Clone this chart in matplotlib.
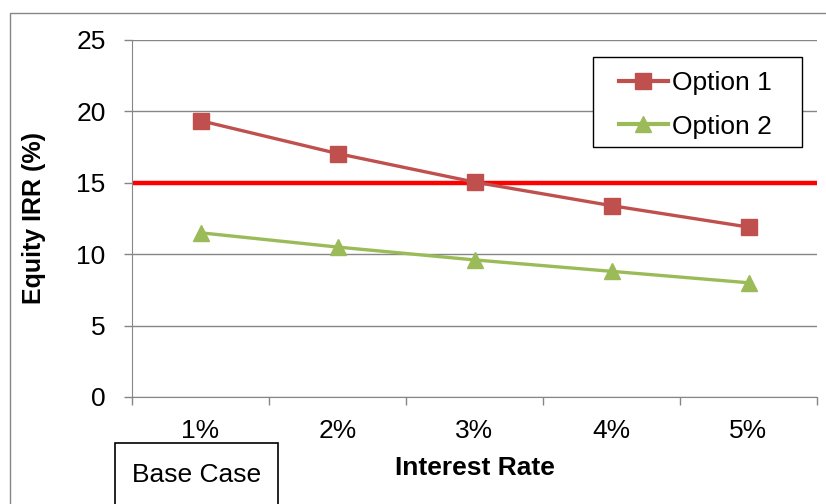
import numpy as np
import matplotlib.pyplot as plt
from matplotlib.patches import Rectangle

rates = ["1%", "2%", "3%", "4%", "5%"]
option1 = [19.35, 17.05, 15.05, 13.4, 11.9]
option2 = [11.5, 10.5, 9.6, 8.8, 8.0]
target_irr = 15

plt.rcParams["font.family"] = ["Liberation Sans", "DejaVu Sans"]

fig = plt.figure(figsize=(8.26, 5.04), dpi=100)
ax = fig.add_axes([132 / 826, 1 - 397 / 504, (817 - 132) / 826, (397 - 40) / 504])

x = np.arange(len(rates))
grey = "#868686"

ax.axhline(target_irr, color="#FF0000", linewidth=3.2, zorder=2)
ax.plot(x, option1, "-s", color="#C0504D", linewidth=2.4, markersize=12,
        label="Option 1", zorder=3)
ax.plot(x, option2, "-^", color="#9BBB59", linewidth=2.4, markersize=11,
        label="Option 2", zorder=3)

ax.set_xlim(-0.5, len(rates) - 0.5)
ax.set_ylim(0, 25)
ax.set_yticks(np.arange(0, 26, 5))
ax.yaxis.grid(True, color=grey, linewidth=1)
ax.set_axisbelow(True)

ax.set_xticks(x)
ax.set_xticklabels(rates)
ax.set_xticks(np.arange(-0.5, len(rates)), minor=True)
ax.tick_params(axis="x", which="major", length=0, pad=16, labelsize=19)
ax.tick_params(axis="x", which="minor", length=6, color=grey, width=1)
ax.tick_params(axis="y", length=6, color=grey, width=1, labelsize=19, pad=13)

for side in ["top", "right"]:
    ax.spines[side].set_visible(False)
ax.spines["left"].set_color(grey)
ax.spines["bottom"].set_color(grey)

ax.set_ylabel("Equity IRR (%)", fontsize=18, fontweight="bold", labelpad=22)
ax.set_xlabel("Interest Rate", fontsize=19, fontweight="bold", labelpad=9)

# legend without its own frame; the box is drawn separately for wider side padding
leg = fig.legend(*ax.get_legend_handles_labels(), loc="upper left",
                 bbox_to_anchor=(619 / 826, 1 - 71 / 504), fontsize=19,
                 frameon=False, handlelength=1.85, handletextpad=0.15,
                 borderpad=0, labelspacing=0.74, borderaxespad=0)
for line in leg.get_lines():
    line.set_linewidth(3)
fig.patches.append(Rectangle((593 / 826, 1 - 147 / 504), (802 - 593) / 826,
                             (147 - 57) / 504, transform=fig.transFigure,
                             facecolor="white", edgecolor="black", linewidth=1,
                             zorder=4))
leg.set_zorder(5)

# outer chart border
fig.patches.append(Rectangle((10 / 826, -0.1), 1.1, 0.1 + 1 - 13 / 504,
                             transform=fig.transFigure, fill=False,
                             edgecolor=grey, linewidth=1))

# "Base Case" note box
fig.patches.append(Rectangle((115 / 826, -0.1), (278 - 115) / 826,
                             0.1 + 1 - 443 / 504, transform=fig.transFigure,
                             facecolor="white", edgecolor="black", linewidth=1.2))
fig.text(197 / 826, 1 - 475 / 504, "Base Case", ha="center", va="center",
         fontsize=19)

fig.savefig("out.png", dpi=100)
